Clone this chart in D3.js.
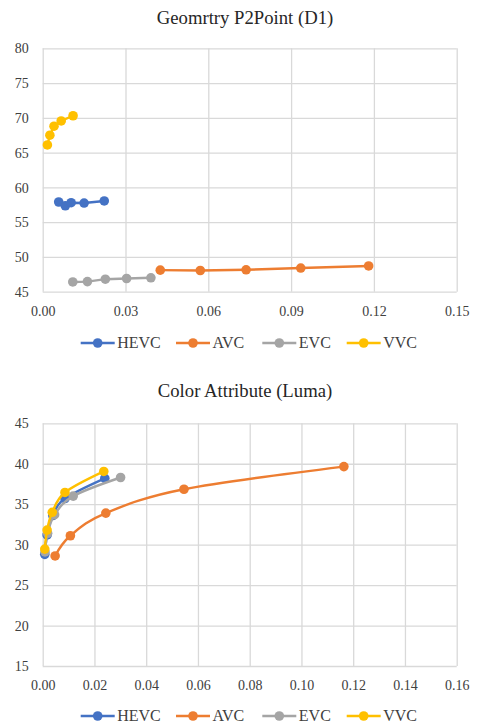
<!DOCTYPE html>
<html>
<head>
<meta charset="utf-8">
<script src="https://cdn.jsdelivr.net/npm/d3@7/dist/d3.min.js"></script>
<style>
  html, body { margin: 0; padding: 0; background: #fff; }
</style>
</head>
<body>
<svg id="chart" width="477" height="726"></svg>
<script>
const FONT = "Liberation Serif";

// Codec names and colours
const codecs = ["HEVC", "AVC", "EVC", "VVC"];
const colors = ["#4472C4", "#ED7D31", "#A5A5A5", "#FFC000"];

// Geometry P2Point (D1): bitrate (x) and PSNR (y)
const geoHEVC_x = [0.0058, 0.0082, 0.0103, 0.0150, 0.0223];
const geoHEVC_y = [57.9, 57.35, 57.8, 57.75, 58.05];
const geoAVC_x  = [0.0426, 0.0571, 0.0737, 0.0935, 0.1181];
const geoAVC_y  = [48.1, 48.05, 48.15, 48.4, 48.7];
const geoEVC_x  = [0.0109, 0.0162, 0.0227, 0.0304, 0.0392];
const geoEVC_y  = [46.4, 46.45, 46.8, 46.9, 47.0];
const geoVVC_x  = [0.0017, 0.0026, 0.0041, 0.0067, 0.0110];
const geoVVC_y  = [66.1, 67.5, 68.8, 69.55, 70.3];

// Color attribute (Luma): bitrate (x) and PSNR (y)
const lumaHEVC_x = [0.0008, 0.0017, 0.0039, 0.0086, 0.0240];
const lumaHEVC_y = [28.8, 31.2, 33.6, 35.7, 38.2];
const lumaAVC_x  = [0.0048, 0.0107, 0.0244, 0.0546, 0.1164];
const lumaAVC_y  = [28.6, 31.1, 33.9, 36.85, 39.65];
const lumaEVC_x  = [0.0009, 0.0019, 0.0046, 0.0118, 0.0301];
const lumaEVC_y  = [29.1, 31.4, 33.7, 36.0, 38.3];
const lumaVVC_x  = [0.0008, 0.0017, 0.0037, 0.0086, 0.0236];
const lumaVVC_y  = [29.45, 31.8, 34.0, 36.45, 39.05];

// Axis tick values
const geoXTicks  = [0, 0.03, 0.06, 0.09, 0.12, 0.15];
const geoYTicks  = [45, 50, 55, 60, 65, 70, 75, 80];
const lumaXTicks = [0, 0.02, 0.04, 0.06, 0.08, 0.10, 0.12, 0.14, 0.16];
const lumaYTicks = [15, 20, 25, 30, 35, 40, 45];

const zip = (xs, ys) => xs.map((x, i) => ({x, y: ys[i]}));

const svg = d3.select("#chart").attr("font-family", FONT);

function drawPanel(cfg) {
  const g = svg.append("g");
  const x = d3.scaleLinear().domain(cfg.xDomain).range([cfg.left, cfg.right]);
  const y = d3.scaleLinear().domain(cfg.yDomain).range([cfg.bottom, cfg.top]);

  // title
  g.append("text")
    .attr("x", 245).attr("y", cfg.titleY)
    .attr("text-anchor", "middle")
    .attr("font-family", FONT)
    .style("font-size", "18.7px")
    .style("fill", "#262626")
    .text(cfg.title);

  // horizontal gridlines + y labels
  const yAxis = g.append("g")
    .attr("transform", `translate(${cfg.left},0)`)
    .call(d3.axisLeft(y).tickValues(cfg.yTicks).tickSize(-(cfg.right - cfg.left)).tickPadding(14).tickFormat(d3.format("d")))
    .attr("font-family", FONT);
  yAxis.select(".domain").remove();
  yAxis.selectAll("line").attr("stroke", "#d9d9d9").attr("stroke-width", 1.3);
  yAxis.selectAll("text").style("font-size", "14px").attr("dy", "0.33em").style("fill", "#404040");

  // vertical gridlines + x labels
  const xAxis = g.append("g")
    .attr("transform", `translate(0,${cfg.bottom})`)
    .call(d3.axisBottom(x).tickValues(cfg.xTicks).tickSize(-(cfg.bottom - cfg.top)).tickPadding(14).tickFormat(d3.format(".2f")))
    .attr("font-family", FONT);
  xAxis.select(".domain").remove();
  xAxis.selectAll("line").attr("stroke", "#d9d9d9").attr("stroke-width", 1.3);
  xAxis.selectAll("text").style("font-size", "14px").attr("dy", "0.71em").style("fill", "#404040");

  // series: line plus round markers
  const line = d3.line().x(d => x(d.x)).y(d => y(d.y)).curve(cfg.curve);
  cfg.series.forEach((pts, i) => {
    const s = g.append("g");
    s.append("path").datum(pts)
      .attr("fill", "none").attr("stroke", colors[i]).attr("stroke-width", 2.4)
      .attr("stroke-linejoin", "round")
      .attr("d", line);
    s.selectAll("circle").data(pts).enter().append("circle")
      .attr("cx", d => x(d.x)).attr("cy", d => y(d.y)).attr("r", 4.8)
      .attr("fill", colors[i]);
  });

  // legend
  const legendX = [80.7, 176, 262.3, 346.7];
  codecs.forEach((name, i) => {
    const lg = g.append("g").attr("transform", `translate(${legendX[i]},${cfg.legendY})`);
    lg.append("line").attr("x1", 0).attr("x2", 34).attr("y1", 0).attr("y2", 0)
      .attr("stroke", colors[i]).attr("stroke-width", 2.4);
    lg.append("circle").attr("cx", 17).attr("cy", 0).attr("r", 4.8).attr("fill", colors[i]);
    lg.append("text").attr("x", 36.5).attr("y", 5.4)
      .attr("font-family", FONT)
      .style("font-size", "16px").style("fill", "#404040").text(name);
  });
}

drawPanel({
  title: "Geomrtry P2Point (D1)", titleY: 23.5,
  left: 42.7, right: 456.7, top: 48.3, bottom: 291.7,
  xDomain: [0, 0.15], yDomain: [45, 80],
  xTicks: geoXTicks, yTicks: geoYTicks,
  curve: d3.curveLinear, legendY: 343,
  series: [zip(geoHEVC_x, geoHEVC_y), zip(geoAVC_x, geoAVC_y), zip(geoEVC_x, geoEVC_y), zip(geoVVC_x, geoVVC_y)]
});

drawPanel({
  title: "Color Attribute (Luma)", titleY: 396.5,
  left: 42.7, right: 456.7, top: 423.3, bottom: 666,
  xDomain: [0, 0.16], yDomain: [15, 45],
  xTicks: lumaXTicks, yTicks: lumaYTicks,
  curve: d3.curveCardinal.tension(0), legendY: 716,
  series: [zip(lumaHEVC_x, lumaHEVC_y), zip(lumaAVC_x, lumaAVC_y), zip(lumaEVC_x, lumaEVC_y), zip(lumaVVC_x, lumaVVC_y)]
});
</script>
</body>
</html>
